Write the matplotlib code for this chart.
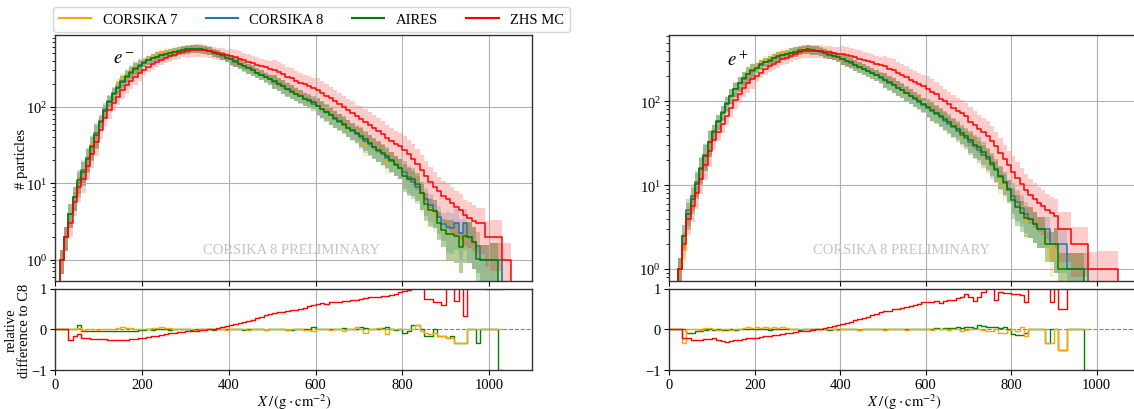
import numpy as np
import matplotlib
matplotlib.use("Agg")
import matplotlib.pyplot as plt
from matplotlib.lines import Line2D

plt.rcParams['font.family'] = ['Liberation Serif', 'DejaVu Serif']
plt.rcParams['mathtext.fontset'] = 'stix'
plt.rcParams['font.size'] = 10.5
plt.rcParams['axes.unicode_minus'] = True
plt.rcParams['xtick.major.pad'] = 2.0
plt.rcParams['ytick.major.pad'] = 2.5

# ---------------- data ----------------
bin_edges = np.arange(0, 1101, 10)          # g/cm^2, 110 bins
series_names = ["CORSIKA 7", "CORSIKA 8", "AIRES", "ZHS MC"]
series_colors = ["orange", "#1f77b4", "green", "red"]
x_ticks = [0, 200, 400, 600, 800, 1000]

# e-  : CORSIKA 8 counts per bin
c8_em = [0, 1, 2, 4, 6.7, 10, 14.7, 21.5, 31, 45,
         65, 93, 120, 150, 183, 218, 253, 288, 322, 353,
         382, 409, 433, 455, 475, 493, 509, 523, 540, 555,
         566, 572, 572, 566, 553, 535, 512, 489, 465, 441,
         418, 391, 366, 342, 320, 299, 280, 262, 245, 229,
         214, 199, 185, 172, 160, 148, 138, 128, 119, 110,
         102, 93, 85, 77, 70, 64, 58, 53, 48, 44,
         40, 36, 32.6, 29.5, 26.7, 24, 21.7, 19.6, 17.7, 16,
         14, 12, 10.3, 8.8, 7.4, 6.2, 5.2, 4.3, 3.6, 2.9,
         2.7, 2.6, 3, 2.2, 3, 2, 1.7, 1.5, 1, 1,
         1, 1, 1, 0, 0, 0, 0, 0, 0, 0]
# e-  : ZHS MC counts per bin
zhs_em = [0, 1, 2, 3, 5.7, 8.8, 11.5, 16.8, 24, 35,
          49, 71, 90, 113, 135, 164, 190, 219, 248, 275,
          302, 331, 359, 387, 409, 434, 458, 476, 502, 522,
          538, 549, 555, 555, 548, 535, 517, 504, 493, 476,
          460, 442, 425, 404, 387, 371, 356, 341, 328, 316,
          300, 283, 265, 249, 235, 219, 207, 196, 187, 176,
          166, 153, 138, 129, 118, 108, 98, 90, 83, 75,
          70, 63, 58, 53, 48, 43.7, 39.5, 36, 33, 30.7,
          27, 24, 21, 18, 15, 12.5, 10.5, 9, 7.8, 6.8,
          6.2, 5.5, 4.9, 4.5, 3.8, 3.5, 3.2, 3, 3, 2,
          2, 2, 2, 1, 1, 0, 0, 0, 0, 0]
# e-  : relative differences to CORSIKA 8
aires_rel_em = [0, 0, 0, 0, 0, 0.1, -0.04, -0.04, -0.03, -0.04,
                -0.03, -0.04, -0.03, -0.03, -0.04, -0.03, -0.03, -0.04, -0.03, -0.02,
                -0.01, 0, -0.01, 0, 0.01, 0, -0.01, 0, 0, 0.01,
                0, -0.01, 0, 0.01, 0, 0, -0.01, 0, 0.01, 0,
                0, 0.01, 0, -0.01, 0, 0.01, 0, 0, -0.01, 0,
                0.01, 0, 0, -0.01, -0.01, 0, 0.01, 0, 0.02, 0.05,
                0.01, 0.01, 0.02, 0.01, 0.02, 0.02, 0.03, 0.01, 0.02, 0.02,
                0.05, 0.04, 0.02, 0.01, 0.02, 0.03, 0.05, 0.02, -0.01, 0,
                -0.1, -0.05, 0.1, 0.1, 0, -0.15, -0.15, 0, -0.17, -0.17,
                -0.2, -0.17, -0.33, -0.33, -0.33, 0, 0, -0.33, 0, 0,
                0, 0, -1]
c7_rel_em = [0, 0, 0, 0, 0, 0.03, -0.02, 0, 0.01, -0.01,
             0.02, 0.01, 0, 0.02, 0.04, 0.05, 0.04, 0.03, 0.02, 0.02,
             0.01, 0.02, 0.03, 0.04, 0.05, 0.04, 0.03, 0.02, 0.01, 0,
             0.01, 0, -0.01, 0, 0.01, 0, 0, 0.01, 0, -0.01,
             0, 0.01, 0.02, 0, -0.01, 0, 0.01, 0, -0.01, 0.01,
             0, 0.01, 0, -0.01, 0, 0.01, 0, -0.01, -0.02, -0.03,
             0, 0.01, 0, -0.01, 0.01, 0, -0.03, 0, 0.02, 0.05,
             0.02, -0.1, 0, 0.02, 0.03, 0.02, -0.12, 0.01, 0, 0,
             0, 0, 0, 0.1, -0.05, -0.1, -0.12, -0.1, -0.15, -0.15,
             -0.2, -0.2, -0.33, -0.33, -0.33, 0, 0, 0, 0, 0,
             0, 0, 0]
zhs_rel_em = [0, 0, 0, -0.25, -0.15, -0.12, -0.22, -0.22, -0.23, -0.23,
              -0.24, -0.24, -0.25, -0.25, -0.26, -0.25, -0.25, -0.24, -0.23, -0.22,
              -0.21, -0.19, -0.17, -0.15, -0.14, -0.12, -0.10, -0.09, -0.07, -0.06,
              -0.05, -0.04, -0.03, -0.02, -0.01, 0.0, 0.01, 0.03, 0.06, 0.08,
              0.1, 0.13, 0.16, 0.18, 0.21, 0.24, 0.27, 0.3, 0.34, 0.38,
              0.4, 0.42, 0.43, 0.45, 0.47, 0.48, 0.5, 0.53, 0.57, 0.6,
              0.63, 0.64, 0.62, 0.67, 0.68, 0.68, 0.69, 0.7, 0.72, 0.71,
              0.75, 0.76, 0.78, 0.79, 0.8, 0.82, 0.82, 0.84, 0.87, 0.92,
              0.93, 0.97, 1.05, 1.1, 1.1, 0.75, 0.75, 0.67, 0.67, 0.6,
              1.2, 1.2, 0.7, 1.2, 0.33, 1.3, 1.4, 1.5, 2, 1,
              1, 1, 1]

# e+  : CORSIKA 8 counts per bin
c8_ep = [0, 0, 1, 2.5, 5, 7.5, 11, 16, 23, 33,
         44, 57, 74, 95, 117, 140, 163, 186, 209, 231,
         252, 272, 291, 309, 325, 340, 354, 366, 377, 390,
         405, 412, 414, 410, 402, 390, 377, 363, 349, 334,
         320, 305, 289, 273, 258, 243, 229, 216, 203, 191,
         179, 167, 156, 145, 135, 125, 116, 107, 99, 91,
         84, 77, 71, 65, 59, 54, 49, 44, 40, 36,
         32.5, 29, 26, 23, 20.5, 17.5, 15, 12.5, 10.5, 8.8,
         7.5, 6.3, 5.3, 4.5, 3.9, 3.4, 3, 3, 3, 2,
         2, 2, 2, 1, 1, 1, 1, 1, 0, 0,
         0, 0, 0, 0, 0, 0, 0, 0, 0, 0]
# e+  : ZHS MC counts per bin
zhs_ep = [0, 0, 1, 2, 3.9, 5.6, 8, 12, 17.5, 25.4,
          34.3, 42.8, 53.3, 66.5, 84, 104, 122, 143, 163, 182,
          202, 220, 242, 260, 280, 296, 315, 329, 347, 363,
          385, 396, 402, 402, 402, 396, 391, 384, 379, 371,
          362, 354, 344, 333, 323, 311, 300, 292, 280, 271,
          260, 244, 234, 219, 205, 193, 181, 171, 161, 151,
          141, 129, 121, 107, 100, 92, 84, 77, 72, 67,
          57, 52, 47, 43, 39, 34, 29, 24.5, 20.5, 17.2,
          14.5, 12.2, 10.2, 8.8, 7.7, 6.8, 6.1, 5.6, 5.1, 4.7,
          4.3, 3, 3, 3, 2, 2, 2, 2, 1, 1,
          1, 1, 1, 1, 1, 0, 0, 0, 0, 0]
# e+  : relative differences to CORSIKA 8
aires_rel_ep = [0, 0, 0, 0, -0.1, -0.08, -0.05, -0.03, -0.02, 0,
                -0.02, 0.01, -0.01, -0.02, 0, -0.01, 0, 0.01, 0.02, 0.01,
                0, 0.01, 0, -0.01, 0, 0.01, 0, 0, 0.01, 0,
                -0.01, 0, 0.01, 0, 0, 0.01, 0, -0.01, 0, 0.01,
                0, 0, 0.01, 0, -0.01, 0, 0.01, 0, 0, 0.01,
                0, 0.01, 0, 0, 0.02, 0.01, 0, 0.01, 0.02, 0.01,
                0.02, 0.01, 0.03, 0.02, 0.03, 0.04, 0.03, 0.05, 0.04, 0.06,
                0.05, 0.04, 0.1, 0.08, 0.05, 0.06, 0.05, 0.04, 0.05, 0.02,
                -0.12, -0.13, -0.13, -0.1, 0, 0, 0, 0, -0.33, 0,
                0, -0.5, -0.5, 0, 0, 0, 0, -1]
c7_rel_ep = [0, 0, 0, -0.33, 0, 0.02, 0, -0.01, 0.03, 0.03,
             0.01, -0.02, 0, 0.01, -0.01, 0.01, 0.02, 0.03, 0.05, 0.04,
             0.05, 0.04, 0.05, 0.04, 0.05, 0.04, 0.05, 0.03, 0.02, 0.01,
             0, 0.01, 0, -0.01, 0, 0, 0.01, 0, 0, -0.01,
             0, 0.01, 0, 0, -0.01, 0, 0, 0.01, 0, 0,
             -0.01, 0, 0.01, 0, 0, -0.01, 0, 0, 0.01, 0,
             0, -0.01, 0, 0.01, 0, -0.01, 0, 0, -0.05, -0.02,
             0, 0.01, 0, -0.02, -0.05, -0.05, 0, -0.1, -0.1, -0.02,
             0, -0.03, 0.07, -0.15, 0, 0, 0, 0, -0.33, -0.33,
             0, -0.5, -0.5, 0, 0, 0, 0, 0]
zhs_rel_ep = [0, 0, 0, -0.2, -0.22, -0.25, -0.27, -0.25, -0.24, -0.23,
              -0.22, -0.25, -0.28, -0.3, -0.28, -0.26, -0.25, -0.23, -0.22, -0.21,
              -0.2, -0.19, -0.17, -0.16, -0.14, -0.13, -0.11, -0.1, -0.08, -0.07,
              -0.05, -0.04, -0.03, -0.02, 0.0, 0.02, 0.04, 0.06, 0.09, 0.11,
              0.13, 0.16, 0.19, 0.22, 0.25, 0.28, 0.31, 0.35, 0.38, 0.42,
              0.45, 0.46, 0.5, 0.51, 0.52, 0.54, 0.56, 0.6, 0.63, 0.66,
              0.68, 0.67, 0.7, 0.64, 0.7, 0.71, 0.72, 0.76, 0.8, 0.86,
              0.78, 0.7, 0.8, 0.92, 1.05, 1.1, 0.72, 0.92, 0.9, 0.89,
              0.87, 0.86, 0.85, 0.67, 1.1, 1.2, 1.3, 1.2, 1.1, 0.67,
              1.3, 0.5, 0.5, 1.5, 1.5, 1.5, 1.5, 2]

# fractional shower-to-shower spread, per 100 g/cm^2 segment
spread_codes = [0.35, 0.2, 0.13, 0.12, 0.15, 0.2, 0.25, 0.3, 0.4, 0.55, 0.65]
spread_zhs = [0.35, 0.22, 0.15, 0.18, 0.25, 0.35, 0.42, 0.48, 0.55, 0.6, 0.65]

# ---------------- helpers ----------------
nb = len(bin_edges) - 1


def padded(rel):
    out = np.full(nb, np.nan)
    out[:len(rel)] = rel
    return out


def step_line(ax, vals, **kw):
    vals = np.asarray(vals, float)
    n = len(vals)
    ax.plot(bin_edges[:n + 1], np.append(vals, vals[-1]),
            drawstyle='steps-post', **kw)


def step_band(ax, vals, spread, color, alpha):
    vals = np.asarray(vals, float)
    f = np.repeat(spread, 10)[:nb]
    lo = np.maximum(vals * (1 - f), 1e-3)
    hi = np.maximum(vals * (1 + f), 1e-3)
    ax.fill_between(bin_edges, np.append(lo, lo[-1]), np.append(hi, hi[-1]),
                    step='post', color=color, alpha=alpha, lw=0)


def panel(ax_t, ax_b, c8, zhs, c7_rel, aires_rel, zhs_rel, ylim, label, lpos):
    c8 = np.asarray(c8, float)
    c7 = c8 * (1 + np.nan_to_num(padded(c7_rel)))
    aires = c8 * (1 + np.nan_to_num(padded(aires_rel)))
    tops = [c7, c8, aires, np.asarray(zhs, float)]
    spreads = [spread_codes, spread_codes, spread_codes, spread_zhs]
    alphas = [0.2, 0.2, 0.28, 0.2]
    for v, s, c, a in zip(tops, spreads, series_colors, alphas):
        step_band(ax_t, v, s, c, a)
    for v, c in zip(tops, series_colors):
        step_line(ax_t, v, color=c, lw=1.1)
    ax_t.set_yscale('log')
    ax_t.set_ylim(*ylim)
    ax_t.set_xlim(0, 1100)
    ax_t.grid(True, which='major', color='#b0b0b0', lw=0.8)
    ax_t.tick_params(labelbottom=False)
    ax_t.text(lpos[0], lpos[1], label, transform=ax_t.transAxes,
              fontsize=13.5, ha='left', va='center')
    ax_t.text(0.495, 0.128, 'CORSIKA 8 PRELIMINARY', transform=ax_t.transAxes,
              ha='center', va='center', color='#c4c4c4', fontsize=10.5)

    ax_b.axhline(0, color='gray', ls='--', lw=0.8, zorder=1)
    step_line(ax_b, padded(aires_rel), color='green', lw=1.0)
    step_line(ax_b, padded(c7_rel), color='orange', lw=1.0)
    step_line(ax_b, padded(zhs_rel), color='red', lw=1.0)
    ax_b.set_ylim(-1, 1)
    ax_b.set_yticks([-1, 0, 1])
    ax_b.set_xlim(0, 1100)
    ax_b.set_xticks(x_ticks)
    ax_b.grid(True, axis='x', color='#b0b0b0', lw=0.8)
    ax_b.set_xlabel(r'$X\,/\,(\mathrm{g}\cdot\mathrm{cm}^{-2})$', labelpad=0.5)
    for a in (ax_t, ax_b):
        for sp in a.spines.values():
            sp.set_color('0.2')
            sp.set_linewidth(1.0)


# ---------------- figure ----------------
W, H = 1134, 410
fig = plt.figure(figsize=(W / 100, H / 100), dpi=100)


def rect(l, r, t, b):
    return [l / W, 1 - b / H, (r - l) / W, (b - t) / H]


ax_tl = fig.add_axes(rect(55.4, 532.4, 36.0, 281.7))
ax_bl = fig.add_axes(rect(55.4, 532.4, 289.5, 371.3))
ax_tr = fig.add_axes(rect(669.3, 1139.4, 35.7, 281.7))
ax_br = fig.add_axes(rect(669.3, 1139.4, 289.5, 371.3))

panel(ax_tl, ax_bl, c8_em, zhs_em, c7_rel_em, aires_rel_em, zhs_rel_em,
      (0.53, 870), r'$e^-$', (0.121, 0.904))
panel(ax_tr, ax_br, c8_ep, zhs_ep, c7_rel_ep, aires_rel_ep, zhs_rel_ep,
      (0.726, 622), r'$e^+$', (0.123, 0.9))

for a in (ax_tl, ax_tr):
    a.set_xticks(x_ticks)

ax_tl.set_ylabel('# particles')
ax_tl.yaxis.set_label_coords(-0.057, 0.5)
ax_bl.set_ylabel('relative\ndifference to C8', linespacing=1.0)
ax_bl.yaxis.set_label_coords(-0.051, 0.5)

handles = [Line2D([0], [0], color=c, lw=1.5) for c in series_colors]
fig.legend(handles, series_names, loc='lower left', ncol=4, mode='expand',
           bbox_to_anchor=(53.3 / W, 1 - 32.5 / H, (570 - 53.3) / W, 20 / H),
           borderaxespad=0, handlelength=2.2, fontsize=10.5, frameon=True)

fig.savefig('out.png', dpi=100)
